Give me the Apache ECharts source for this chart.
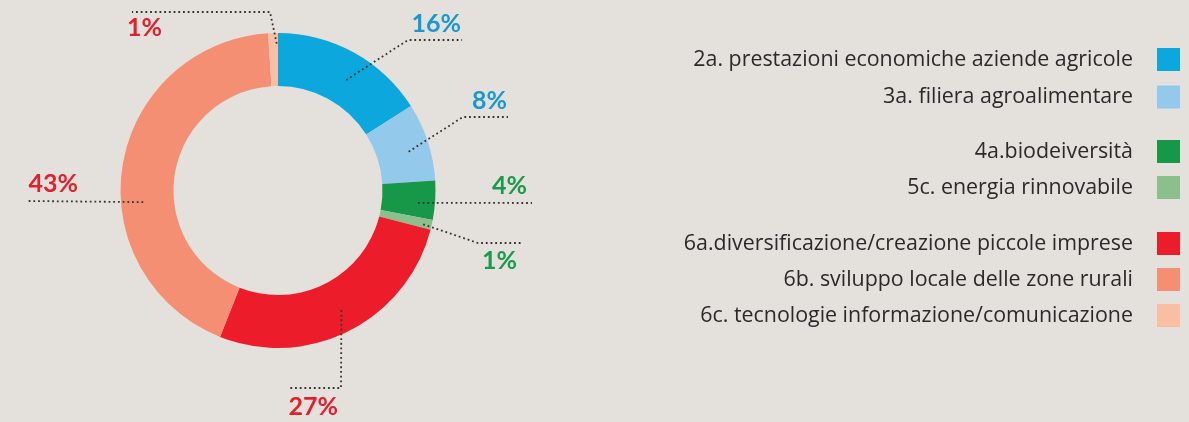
<!DOCTYPE html>
<html>
<head>
<meta charset="utf-8">
<script src="https://cdn.jsdelivr.net/npm/echarts@6/dist/echarts.min.js"></script>
<style>
  html, body { margin: 0; padding: 0; background: #e4e1dc; }
  #chart { width: 1189px; height: 422px; }
</style>
</head>
<body>
<div id="chart"></div>
<script>
// Priority areas and their share of the programme (%)
const categories = [
  '2a. prestazioni economiche aziende agricole',
  '3a. filiera agroalimentare',
  '4a.biodeiversità',
  '5c. energia rinnovabile',
  '6a.diversificazione/creazione piccole imprese',
  '6b. sviluppo locale delle zone rurali',
  '6c. tecnologie informazione/comunicazione'
];
const shares = [16, 8, 4, 1, 27, 43, 1];

// Legend groups (indices into categories)
const legendGroups = [[0, 1], [2, 3], [4, 5, 6]];

const sliceColors = ['#0ca7dd', '#93c9eb', '#179848', '#8bbf8b', '#ed1c2b', '#f58f74', '#f9bfa4'];
const labelColors = ['#1b97d0', '#1b97d0', '#1a9a4a', '#1a9a4a', '#e31e2d', '#e31e2d', '#e31e2d'];

// Leader lines: anchor inside the slice (t = fraction along the arc,
// u = fraction across the ring), then bend points and label position.
const leaders = [
  { t: 0.55, u: 0.48, path: [[408, 40], [462, 40]],   label: [461, 24] },
  { t: 0.55, u: 0.60, path: [[463, 117], [508, 117]], label: [507, 101] },
  { t: 0.60, u: 0.68, path: [[532, 203]],             label: [527, 186] },
  { t: 0.64, u: 0.84, path: [[478, 243], [522, 243]], label: [517, 261] },
  { t: 0.49, u: 0.58, path: [[341, 388], [288, 388]], label: [338, 407] },
  { t: 0.41, u: 0.58, path: [[28, 201]],              label: [78, 184] },
  { t: 0.86, u: 0.80, path: [[270, 12], [132, 12]],   label: [162, 28] }
];

const chart = echarts.init(document.getElementById('chart'), null, { renderer: 'canvas' });

const legendBase = {
  orient: 'vertical',
  right: 9,
  align: 'right',
  padding: 0,
  icon: 'rect',
  itemWidth: 23,
  itemHeight: 23,
  selectedMode: false,
  textStyle: {
    fontFamily: 'Open Sans',
    fontSize: 21.4,
    color: '#2a2a2a',
    padding: [0, 19, 0, 0]
  }
};
const legendTops = [48, 140, 232];
const legendGaps = [14.5, 13, 13];

const ring = {
  type: 'pie',
  center: [278, 190.5],
  radius: [104.5, 157.5],
  startAngle: 90,
  clockwise: true,
  avoidLabelOverlap: false,
  emphasis: { disabled: true }
};

chart.setOption({
  backgroundColor: '#e4e1dc',
  animation: false,
  legend: legendGroups.map((g, k) => Object.assign({}, legendBase, {
    top: legendTops[k],
    itemGap: legendGaps[k],
    data: g.map(i => categories[i])
  })),
  series: [
    // the coloured ring
    Object.assign({}, ring, {
      z: 2,
      label: { show: false },
      labelLine: { show: false },
      data: categories.map((name, i) => ({
        name: name,
        value: shares[i],
        itemStyle: { color: sliceColors[i] }
      }))
    }),
    // same ring, transparent, on top: carries the percentages and dotted leaders
    Object.assign({}, ring, {
      z: 3,
      silent: true,
      legendHoverLink: false,
      itemStyle: { color: 'rgba(0,0,0,0)' },
      data: categories.map((name, i) => ({
        name: name,
        value: shares[i],
        label: { color: labelColors[i] }
      })),
      label: {
        show: true,
        position: 'outside',
        formatter: '{c}%',
        fontFamily: 'Lato',
        fontWeight: 'bold',
        fontSize: 25
      },
      labelLine: {
        show: true,
        showAbove: true,
        length: 10,
        length2: 10,
        lineStyle: { color: '#333333', width: 1.8, type: [1.8, 2.9] }
      },
      labelLayout: function (params) {
        const i = params.dataIndex;
        const L = leaders[i];
        const lay = chart.getModel().getSeriesByIndex(params.seriesIndex).getData().getItemLayout(i);
        const a = lay.startAngle + (lay.endAngle - lay.startAngle) * L.t;
        const r = lay.r0 + (lay.r - lay.r0) * L.u;
        const p0 = [lay.cx + r * Math.cos(a), lay.cy + r * Math.sin(a)];
        return {
          x: L.label[0],
          y: L.label[1],
          align: 'right',
          verticalAlign: 'middle',
          labelLinePoints: [p0].concat(L.path)
        };
      }
    })
  ]
});
</script>
</body>
</html>
